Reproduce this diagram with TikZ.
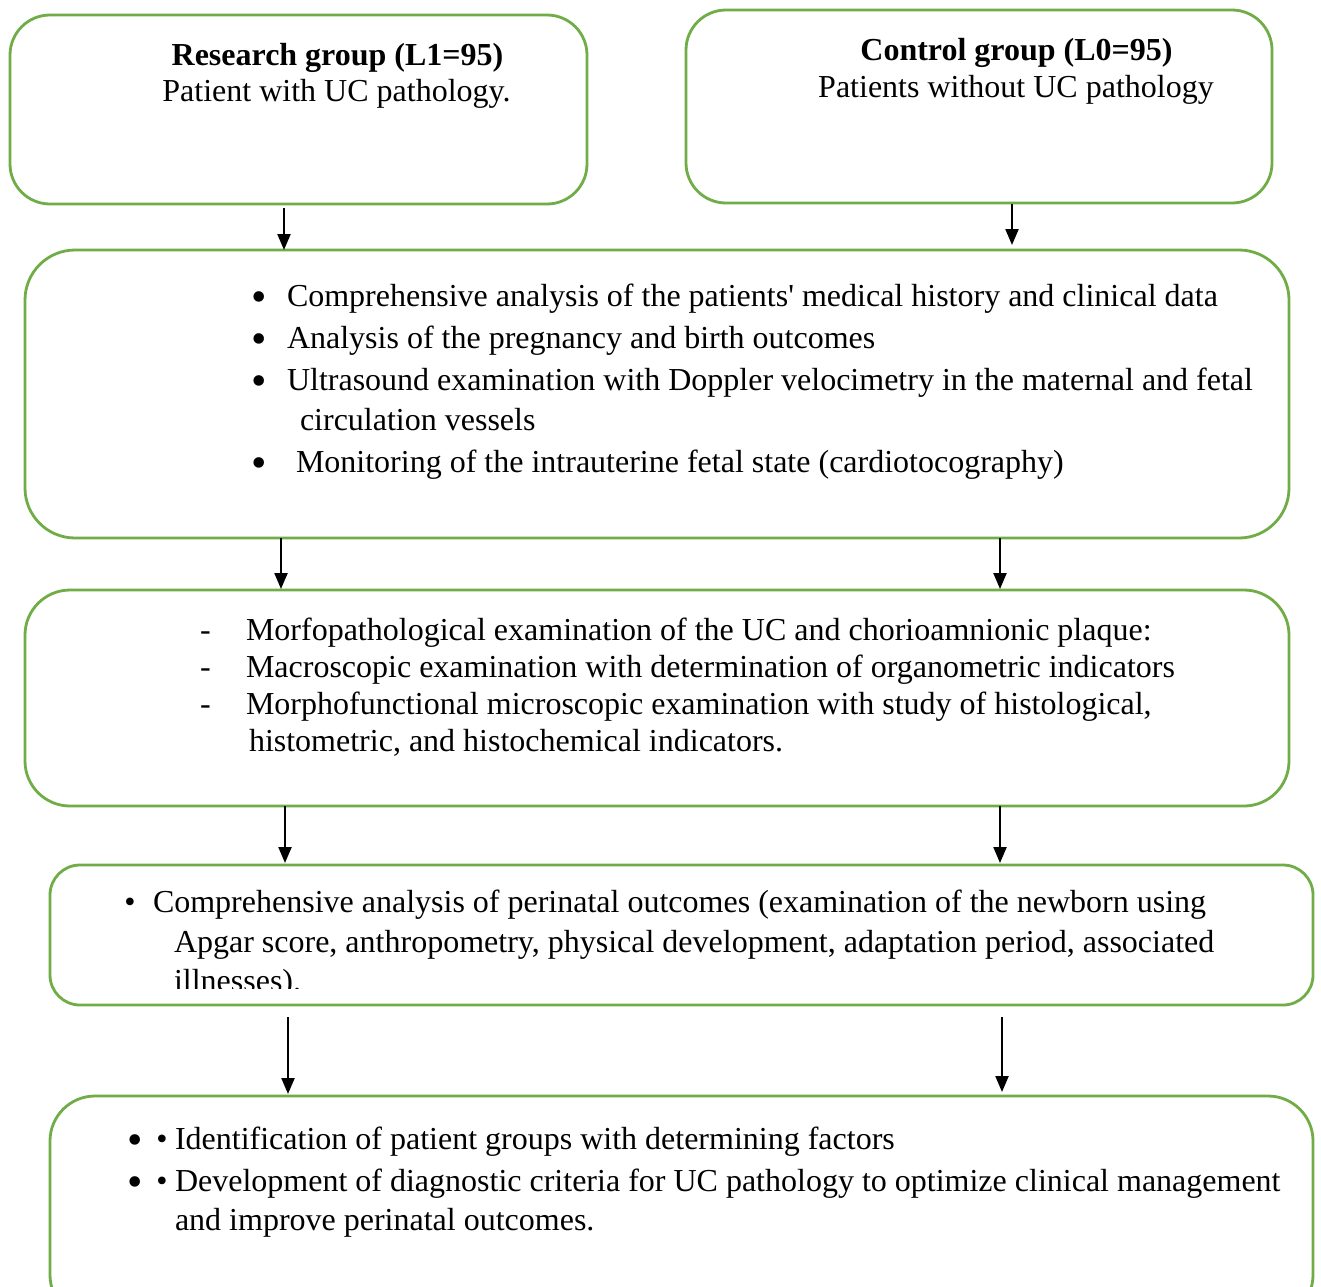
\documentclass[tikz,border=0pt]{standalone}
\usepackage{fontspec}
\setmainfont{Liberation Serif}
\usetikzlibrary{arrows.meta}
\definecolor{boxgreen}{HTML}{70AD47}
\tikzset{
  gbox/.style={draw=boxgreen, line width=2.8pt, rounded corners=#1, inner sep=0pt, outer sep=0pt},
  flow/.style={draw=black, line width=2.2pt, -{Triangle[length=16pt,width=13pt]}},
  ln/.style={anchor=base west, inner sep=0pt, outer sep=0pt, font=\fontsize{32}{38}\selectfont},
  lnc/.style={anchor=base, inner sep=0pt, outer sep=0pt, font=\fontsize{32}{38}\selectfont},
  bigdot/.style={anchor=base, inner sep=0pt, outer sep=0pt, yshift=-5pt, font=\fontsize{44}{44}\selectfont},
  smalldot/.style={anchor=base, inner sep=0pt, outer sep=0pt, font=\fontsize{32}{38}\selectfont},
}
\begin{document}
\begin{tikzpicture}[x=1pt,y=-1pt]
\useasboundingbox (0,0) rectangle (1321,1286);
\clip (0,0) rectangle (1321,1286);
\fill[white] (0,0) rectangle (1321,1286);

% boxes
\node[gbox=40pt, minimum width=577pt, minimum height=189pt] (A) at (298.5,109.5) {};
\node[gbox=40pt, minimum width=586pt, minimum height=193pt] (B) at (979,106.5) {};
\node[gbox=50pt, minimum width=1264pt, minimum height=288pt] (C) at (657,394) {};
\node[gbox=45pt, minimum width=1264pt, minimum height=216pt] (D) at (657,698) {};
\node[gbox=30pt, minimum width=1263pt, minimum height=140pt] (E) at (681.5,935) {};
\node[gbox=45pt, minimum width=1263pt, minimum height=224pt] (F) at (681.5,1208) {};

% box A
\node[lnc] (a1) at (337.5,65) {\textbf{Research group (L1=95)}};
\node[lnc] (a2) at (336.5,101) {Patient with UC pathology.};
% box B
\node[lnc] (b1) at (1016.5,60) {\textbf{Control group (L0=95)}};
\node[lnc] (b2) at (1016,97) {Patients without UC pathology};

% box C
\node[bigdot] (cb1) at (259,306) {•};
\node[bigdot] (cb2) at (259,348) {•};
\node[bigdot] (cb3) at (259,390) {•};
\node[bigdot] (cb5) at (259,472) {•};
\node[ln] (c1) at (287,306) {Comprehensive analysis of the patients\textquotesingle{} medical history and clinical data};
\node[ln] (c2) at (287,348) {Analysis of the pregnancy and birth outcomes};
\node[ln] (c3) at (287,390) {Ultrasound examination with Doppler velocimetry in the maternal and fetal};
\node[ln] (c4) at (300,430) {circulation vessels};
\node[ln] (c5) at (296,472) {Monitoring of the intrauterine fetal state (cardiotocography)};

% box D
\node[ln] (dd1) at (200,640) {-};
\node[ln] (dd2) at (200,677) {-};
\node[ln] (dd3) at (200,714) {-};
\node[ln] (d1) at (246,640) {Morfopathological examination of the UC and chorioamnionic plaque:};
\node[ln] (d2) at (246,677) {Macroscopic examination with determination of organometric indicators};
\node[ln] (d3) at (246,714) {Morphofunctional microscopic examination with study of histological,};
\node[ln] (d4) at (249,751) {histometric, and histochemical indicators.};

% box E
\begin{scope}
\clip (50,865) rectangle (1313,988);
\node[smalldot] (eb1) at (130,912) {•};
\node[ln] (e1) at (153,912) {Comprehensive analysis of perinatal outcomes (examination of the newborn using};
\node[ln] (e2) at (174,952) {Apgar score, anthropometry, physical development, adaptation period, associated};
\node[ln] (e3) at (174,991) {illnesses).};
\end{scope}

% box F
\node[bigdot] (fb1) at (135,1149) {•};
\node[smalldot] (fs1) at (162,1149) {•};
\node[bigdot] (fb2) at (135,1191) {•};
\node[smalldot] (fs2) at (162,1191) {•};
\node[ln] (f1) at (175,1149) {Identification of patient groups with determining factors};
\node[ln] (f2) at (175,1191) {Development of diagnostic criteria for UC pathology to optimize clinical management};
\node[ln] (f3) at (175,1230) {and improve perinatal outcomes.};

% connectors
\draw[flow] ([yshift=-4pt]A.south -| 284,0) -- (C.north -| 284,0);
\draw[flow] ([yshift=-1pt]B.south -| 1012,0) -- ([yshift=5pt]C.north -| 1012,0);
\draw[flow] (C.south -| 281,0) -- ([yshift=1pt]D.north -| 281,0);
\draw[flow] (C.south -| 1000,0) -- ([yshift=1pt]D.north -| 1000,0);
\draw[flow] (D.south -| 285,0) -- ([yshift=2pt]E.north -| 285,0);
\draw[flow] (D.south -| 1000,0) -- ([yshift=2pt]E.north -| 1000,0);
\draw[flow] ([yshift=-12pt]E.south -| 288,0) -- ([yshift=2pt]F.north -| 288,0);
\draw[flow] ([yshift=-12pt]E.south -| 1002,0) -- ([yshift=4pt]F.north -| 1002,0);
\end{tikzpicture}
\end{document}
